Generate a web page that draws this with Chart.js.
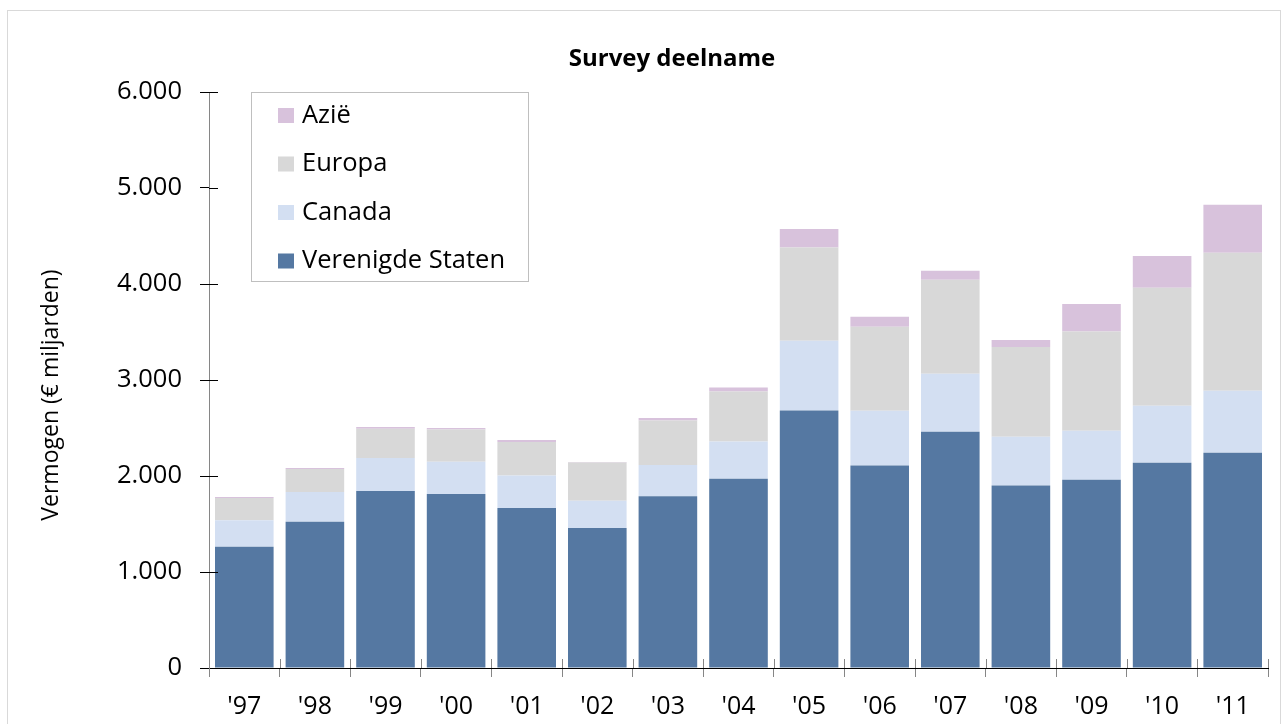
<!DOCTYPE html>
<html>
<head>
<meta charset="utf-8">
<script src="https://cdn.jsdelivr.net/npm/chart.js@4/dist/chart.umd.min.js"></script>
<style>
  html, body { margin: 0; padding: 0; background: #fff; }
  canvas { display: block; }
</style>
</head>
<body>
<canvas id="myChart" width="1288" height="724"></canvas>
<script>
// data (€ miljarden)
const jaren = ["'97", "'98", "'99", "'00", "'01", "'02", "'03", "'04", "'05", "'06", "'07", "'08", "'09", "'10", "'11"];
const verenigdeStaten = [1264, 1524, 1844, 1813, 1667, 1458, 1788, 1972, 2683, 2110, 2461, 1902, 1961, 2139, 2243];
const canada = [274, 309, 344, 336, 339, 285, 327, 388, 726, 570, 605, 507, 511, 593, 645];
const europa = [233, 240, 305, 336, 349, 398, 464, 521, 972, 875, 979, 935, 1034, 1229, 1438];
const azie = [10, 10, 17, 15, 20, 5, 25, 42, 192, 104, 93, 73, 286, 331, 500];
const yTicks = [0, 1000, 2000, 3000, 4000, 5000, 6000];

const FONT = "'Open Sans', 'DejaVu Sans', sans-serif";

const fmt = (v) => String(v).replace(/\B(?=(\d{3})+(?!\d))/g, ".");

// rand, titels, legenda en kruisende tick-streepjes
const extras = {
    id: "extras",
    beforeDraw(chart) {
        const ctx = chart.ctx;
        ctx.save();
        ctx.fillStyle = "#fff";
        ctx.fillRect(0, 0, chart.width, chart.height);
        ctx.strokeStyle = "#d9d9d9";
        ctx.lineWidth = 1;
        ctx.strokeRect(7.5, 10.5, 1273, 730);
        ctx.restore();
    },
    afterDraw(chart) {
        const ctx = chart.ctx;
        const area = chart.chartArea;
        const x = chart.scales.x;
        const y = chart.scales.y;
        ctx.save();

        // tick-streepjes binnen het plotvlak
        ctx.lineWidth = 1;
        ctx.strokeStyle = "#000";
        y.ticks.forEach((t, i) => {
            if (t.value === 0) return;
            const py = Math.round(y.getPixelForTick(i)) + 0.5;
            ctx.beginPath();
            ctx.moveTo(area.left, py);
            ctx.lineTo(area.left + 9, py);
            ctx.stroke();
        });
        ctx.strokeStyle = "#868686";
        const half = (x.getPixelForValue(1) - x.getPixelForValue(0)) / 2;
        for (let i = 0; i <= jaren.length; i++) {
            const px = Math.round(x.getPixelForValue(i) - half) + 0.5;
            ctx.beginPath();
            ctx.moveTo(px, area.bottom);
            ctx.lineTo(px, area.bottom - 9);
            ctx.stroke();
        }

        // titel
        ctx.fillStyle = "#000";
        ctx.font = "bold 24px " + FONT;
        ctx.textAlign = "center";
        ctx.textBaseline = "alphabetic";
        ctx.fillText("Survey deelname", 672, 66);

        // y-as titel
        ctx.save();
        ctx.translate(51, 395);
        ctx.rotate(-Math.PI / 2);
        ctx.font = "23px " + FONT;
        ctx.textBaseline = "middle";
        ctx.fillText("Vermogen (€ miljarden)", 0, 0);
        ctx.restore();

        // legenda
        ctx.fillStyle = "#fff";
        ctx.fillRect(251, 92, 277, 189);
        ctx.strokeStyle = "#bfbfbf";
        ctx.strokeRect(251.5, 92.5, 277, 189);
        ctx.font = "25.5px " + FONT;
        ctx.textAlign = "left";
        ctx.textBaseline = "middle";
        const ds = chart.data.datasets.slice().reverse();
        ds.forEach((d, i) => {
            const cy = 115.5 + i * 48.5;
            ctx.fillStyle = d.backgroundColor;
            ctx.fillRect(278, cy - 7.5, 16, 15);
            ctx.fillStyle = "#000";
            ctx.fillText(d.label, 302, cy);
        });
        ctx.restore();
    },
};

const data = {
    labels: jaren,
    datasets: [
        { label: "Verenigde Staten", data: verenigdeStaten, backgroundColor: "#5578a2" },
        { label: "Canada", data: canada, backgroundColor: "#d3dff2" },
        { label: "Europa", data: europa, backgroundColor: "#d8d8d8" },
        { label: "Azië", data: azie, backgroundColor: "#d8c2dc" },
    ],
};

const config = {
    type: "bar",
    data: data,
    options: {
        responsive: false,
        animation: false,
        events: [],
        layout: { padding: { top: 92, right: 20, left: 0, bottom: 0 } },
        datasets: {
            bar: { barPercentage: 0.83, categoryPercentage: 1.0 },
        },
        plugins: {
            legend: { display: false },
            title: { display: false },
            tooltip: { enabled: false },
        },
        scales: {
            x: {
                stacked: true,
                grid: {
                    offset: true,
                    drawOnChartArea: false,
                    drawTicks: true,
                    tickLength: 9,
                    color: "#868686",
                },
                border: { color: "#000", width: 1 },
                ticks: { color: "#000", font: { family: FONT, size: 25 }, padding: 15, maxRotation: 0 },
                afterFit: (scale) => { scale.height = 56; },
            },
            y: {
                stacked: true,
                min: 0,
                max: 6000,
                afterBuildTicks: (scale) => { scale.ticks = yTicks.map((v) => ({ value: v })); },
                grid: {
                    drawOnChartArea: false,
                    drawTicks: true,
                    tickLength: 9,
                    color: "#000",
                },
                border: { color: "#868686", width: 1 },
                ticks: {
                    color: "#000",
                    font: { family: FONT, size: 25.5 },
                    padding: 18,
                    callback: (v) => fmt(v),
                },
                afterFit: (scale) => { scale.width = 209; },
            },
        },
    },
    plugins: [extras],
};

const myChart = new Chart(document.getElementById("myChart"), config);
</script>
</body>
</html>
